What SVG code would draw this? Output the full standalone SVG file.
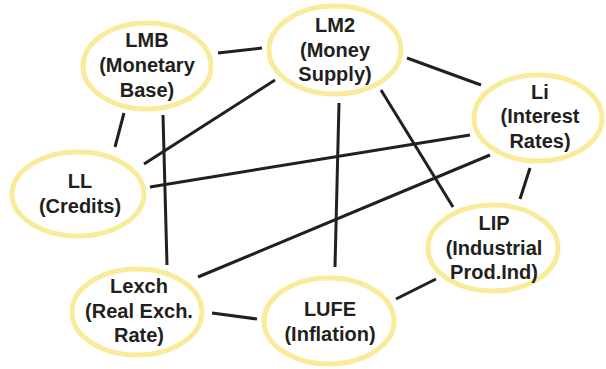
<svg xmlns="http://www.w3.org/2000/svg" width="606" height="369" viewBox="0 0 606 369">
<style>
.n ellipse{fill:#fff;stroke:#F8EC9C;stroke-width:5}
.n text{font-family:"Liberation Sans",Arial,sans-serif;font-weight:bold;font-size:20px;fill:#231F20;text-anchor:middle}
.e line{stroke:#231F20;stroke-width:3;stroke-linecap:butt}
</style>
<rect width="606" height="369" fill="#fff"/>
<g class="e" id="connectors">
<line x1="218" y1="53" x2="262" y2="48"/>
<line x1="124" y1="113" x2="115" y2="147"/>
<line x1="163" y1="115" x2="167" y2="265"/>
<line x1="275" y1="80" x2="144" y2="164"/>
<line x1="407" y1="58" x2="481" y2="85"/>
<line x1="339" y1="103" x2="335" y2="267"/>
<line x1="381" y1="90" x2="453" y2="207"/>
<line x1="470" y1="135" x2="150" y2="187"/>
<line x1="490" y1="155" x2="198" y2="277"/>
<line x1="530" y1="168" x2="520" y2="199"/>
<line x1="212" y1="313" x2="257" y2="319"/>
<line x1="396" y1="299" x2="436" y2="279"/>
</g>
<g class="n" id="LMB"><ellipse cx="147" cy="66" rx="64" ry="43"/><text x="147" y="47">LMB</text><text x="147" y="72">(Monetary</text><text x="147" y="97">Base)</text></g>
<g class="n" id="LM2"><ellipse cx="335" cy="50" rx="66" ry="44"/><text x="335" y="32">LM2</text><text x="335" y="57">(Money</text><text x="335" y="81">Supply)</text></g>
<g class="n" id="Li"><ellipse cx="538" cy="118" rx="64" ry="43"/><text x="540" y="99">Li</text><text x="540" y="123">(Interest</text><text x="540" y="148">Rates)</text></g>
<g class="n" id="LL"><ellipse cx="78" cy="194" rx="66" ry="42"/><text x="80" y="188">LL</text><text x="80" y="213">(Credits)</text></g>
<g class="n" id="Lexch"><ellipse cx="137" cy="312" rx="65" ry="43"/><text x="139" y="293">Lexch</text><text x="139" y="318">(Real Exch.</text><text x="139" y="342">Rate)</text></g>
<g class="n" id="LUFE"><ellipse cx="329" cy="321" rx="65" ry="43"/><text x="330" y="316">LUFE</text><text x="330" y="341">(Inflation)</text></g>
<g class="n" id="LIP"><ellipse cx="493" cy="248" rx="65" ry="43"/><text x="494" y="230">LIP</text><text x="494" y="255">(Industrial</text><text x="494" y="279">Prod.Ind)</text></g>
</svg>
